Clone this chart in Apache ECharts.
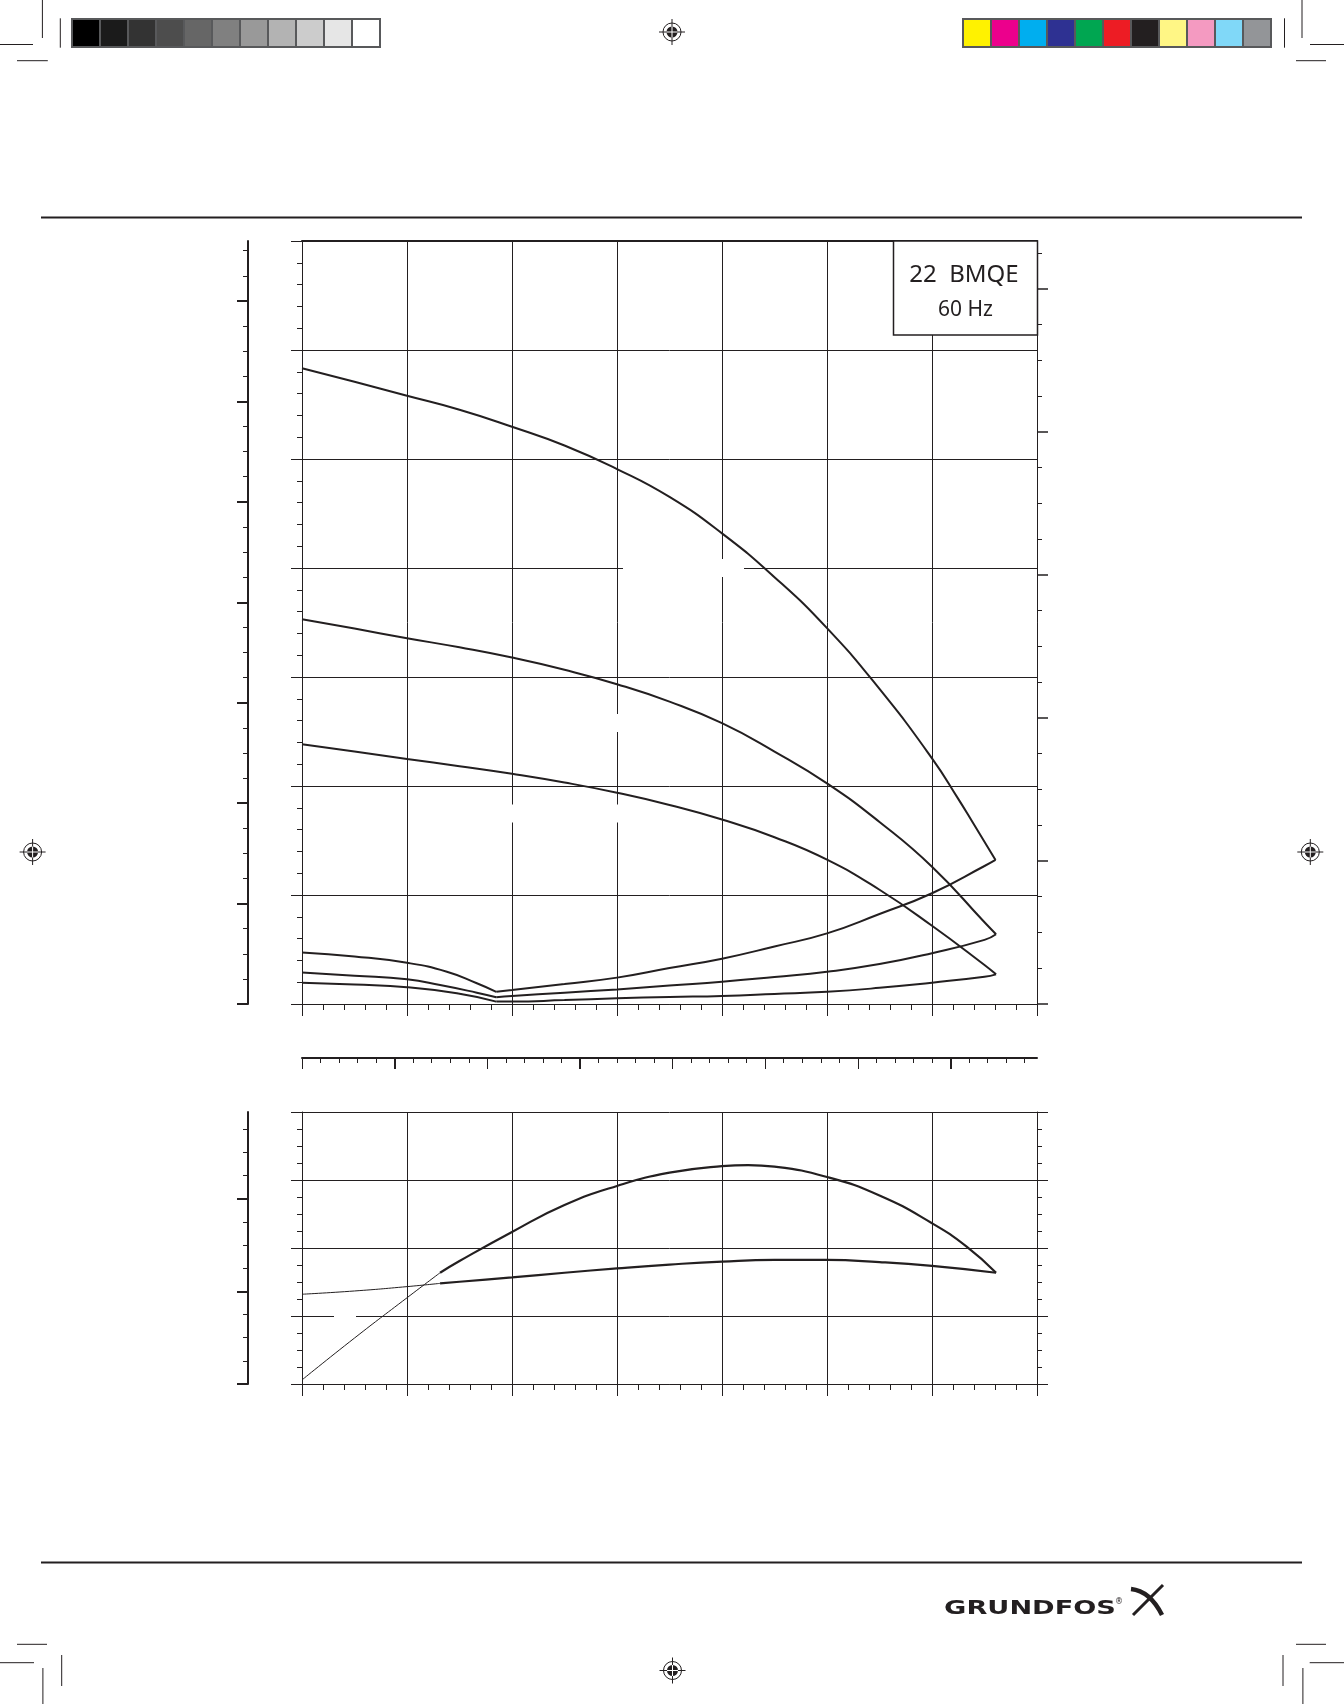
<!DOCTYPE html>
<html><head><meta charset="utf-8">
<script src="https://cdn.jsdelivr.net/npm/echarts@6/dist/echarts.min.js"></script>
<style>html,body{margin:0;padding:0;background:#fff}#c{width:1344px;height:1704px}</style>
</head><body><div id="c"></div>
<script>
// ---------- data ----------
const headA = [[0,291.6],[10,285.4],[20,279.0],[30,272.6],[40,264.8],[50,256.2],[60,245.4],[70,232.6],[80,215.9],[90,195.8],[100,172.4],[110,144.5],[120,112.7],[125,94.1],[128,82.3],[132.1,66.1]];
const headB = [[0,176.5],[10,172.2],[20,167.8],[30,163.6],[40,158.9],[50,153.3],[60,146.7],[70,138.7],[80,128.8],[90,115.8],[100,101.2],[110,83.5],[120,63.0],[130,37.5],[132.2,32.0]];
const headC = [[0,119.1],[10,115.8],[20,112.4],[30,109.1],[40,105.6],[50,101.6],[60,96.9],[70,91.3],[80,84.6],[90,76.5],[100,66.2],[110,52.4],[120,35.9],[130,17.9],[132.2,13.6]];
const lowP1left = [[0,23.6],[10,21.8],[20,18.9],[27.6,14.8],[33.3,9.5],[37,5.6]];
const lowP1right = [[37,5.6],[40,6.4],[50,9.2],[60,12.1],[70,16.5],[80,20.8],[90,26.4],[100,32.4],[110,41.3],[120,50.8],[130,63.3],[132.1,66.1]];
const lowP2left = [[0,14.5],[10,13.0],[20,11.3],[26.3,8.7],[33.3,5.2],[37,3.1]];
const lowP2right = [[37,3.1],[40,3.7],[50,5.2],[60,6.7],[70,8.5],[80,10.2],[90,12.4],[100,14.8],[110,18.3],[120,23.3],[130,29.4],[132.2,32.0]];
const lowP3left = [[0,9.8],[10,8.9],[20,7.7],[29.5,4.9],[37,1.1]];
const lowP3right = [[37,1.1],[40,1.1],[50,1.8],[60,2.6],[70,3.2],[80,3.7],[90,4.6],[100,5.6],[110,7.4],[120,9.8],[130,12.5],[132.2,13.6]];
const effThin = [[0,1.5],[10,16.9],[20,31.7],[26.3,40.9]];
const effThick = [[26.3,40.9],[30,45.2],[40,55.9],[50,65.8],[60,72.8],[70,77.7],[80,80.1],[85,80.5],[90,79.9],[100,76.1],[110,69.3],[120,59.1],[126.6,50.5],[132.2,40.9]];
const pwrThin = [[0,33.0],[10,34.2],[20,35.8],[26.3,37.0]];
const pwrThick = [[26.3,37.0],[30,37.6],[40,39.2],[50,40.9],[60,42.5],[70,43.9],[80,45.0],[90,45.6],[100,45.6],[110,44.8],[120,43.4],[132.2,40.9]];

// axis tick values
const rightMajor = [0,10,20,30,40,50];
const rightMinor = [2.5,5,7.5,12.5,15,17.5,22.5,25,27.5,32.5,35,37.5,42.5,45,47.5,52.5];
const farTopMajor = [0,10,20,30,40,50,60,70];
const farTopMinor = [2.5,5,7.5,12.5,15,17.5,22.5,25,27.5,32.5,35,37.5,42.5,45,47.5,52.5,55,57.5,62.5,65,67.5,72.5,75];
const farBotMajor = [0,10,20];
const farBotMinor = [2.5,5,7.5,12.5,15,17.5,22.5,25,27.5];
const midMinor = [1,2,3,4,6,7,8,9,11,12,13,14,16,17,18,19,21,22,23,24,26,27,28,29,31,32,33,34,36,37,38,39];
const midLongThin = [0,10,20,25,30];
const midLongThick = [5,15,35];

const grayColors = ['#000000','#1b1b1b','#333333','#4d4d4d','#666666','#808080','#999999','#b3b3b3','#cccccc','#e6e6e6','#ffffff'];
const procColors = ['#fff200','#ec008c','#00aeef','#2e3192','#00a651','#ed1c24','#231f20','#fff685','#f49ac1','#80d8f8','#939598'];

const ink = '#231f20';
const chart = echarts.init(document.getElementById('c'), null, {renderer:'canvas'});

function tickAxis(base){
  const a = Object.assign({type:'value', axisLabel:{show:false}, splitLine:{show:false},
    axisLine:{show:false}, axisTick:{show:false}, minorTick:{show:false}}, base);
  a.axisLine = Object.assign({}, a.axisLine, {onZero:false});
  return a;
}
const xAxes = [
  tickAxis({gridIndex:0, min:0, max:140, interval:20, position:'bottom',
    axisLine:{show:true, lineStyle:{color:ink,width:1}},
    axisTick:{show:true, length:12, lineStyle:{color:ink,width:1}},
    minorTick:{show:true, splitNumber:5, length:6, lineStyle:{color:ink,width:1}},
    splitLine:{show:true, lineStyle:{color:ink,width:1}}}),
  tickAxis({gridIndex:0, min:0, max:140, position:'top',
    axisLine:{show:true, lineStyle:{color:ink,width:2}}}),
  tickAxis({gridIndex:0, min:0, max:39.67, position:'bottom', offset:54,
    axisLine:{show:true, lineStyle:{color:ink,width:2}},
    axisTick:{show:true, customValues:midMinor, length:5, lineStyle:{color:ink,width:1}}}),
  tickAxis({gridIndex:0, min:0, max:39.67, position:'bottom', offset:54,
    axisTick:{show:true, customValues:midLongThin, length:11, lineStyle:{color:ink,width:1}}}),
  tickAxis({gridIndex:0, min:0, max:39.67, position:'bottom', offset:54,
    axisTick:{show:true, customValues:midLongThick, length:11, lineStyle:{color:ink,width:2}}}),
  tickAxis({gridIndex:1, min:0, max:140, interval:20, position:'bottom',
    axisLine:{show:true, lineStyle:{color:ink,width:1}},
    axisTick:{show:true, length:12, lineStyle:{color:ink,width:1}},
    minorTick:{show:true, splitNumber:5, length:6, lineStyle:{color:ink,width:1}},
    splitLine:{show:true, lineStyle:{color:ink,width:1}}})
];
const yAxes = [
  tickAxis({gridIndex:0, min:0, max:350, interval:50, position:'left',
    axisLine:{show:true, lineStyle:{color:ink,width:1}},
    axisTick:{show:true, length:11, lineStyle:{color:ink,width:1}},
    minorTick:{show:true, splitNumber:5, length:5, lineStyle:{color:ink,width:1}},
    splitLine:{show:true, lineStyle:{color:ink,width:1}}}),
  tickAxis({gridIndex:0, min:0, max:53.333, position:'right',
    axisLine:{show:true, lineStyle:{color:ink,width:1}},
    axisTick:{show:true, customValues:rightMajor, length:11, lineStyle:{color:ink,width:1.5}}}),
  tickAxis({gridIndex:0, min:0, max:53.333, position:'right',
    axisTick:{show:true, customValues:rightMinor, length:5, lineStyle:{color:ink,width:1}}}),
  tickAxis({gridIndex:0, min:0, max:75.97, position:'left', offset:54,
    axisLine:{show:true, lineStyle:{color:ink,width:2}},
    axisTick:{show:true, customValues:farTopMajor, length:11, lineStyle:{color:ink,width:2}}}),
  tickAxis({gridIndex:0, min:0, max:75.97, position:'left', offset:54,
    axisTick:{show:true, customValues:farTopMinor, length:5, lineStyle:{color:ink,width:1}}}),
  tickAxis({gridIndex:1, min:0, max:100, interval:25, position:'left',
    axisLine:{show:true, lineStyle:{color:ink,width:1}},
    axisTick:{show:true, length:11, lineStyle:{color:ink,width:1}},
    minorTick:{show:true, splitNumber:4, length:5, lineStyle:{color:ink,width:1}},
    splitLine:{show:true, lineStyle:{color:ink,width:1}}}),
  tickAxis({gridIndex:1, min:0, max:100, interval:25, position:'right',
    axisLine:{show:true, lineStyle:{color:ink,width:1}},
    axisTick:{show:true, length:11, lineStyle:{color:ink,width:1}},
    minorTick:{show:true, splitNumber:4, length:5, lineStyle:{color:ink,width:1}}}),
  tickAxis({gridIndex:1, min:0, max:29.34, position:'left', offset:54,
    axisLine:{show:true, lineStyle:{color:ink,width:2}},
    axisTick:{show:true, customValues:farBotMajor, length:11, lineStyle:{color:ink,width:2}}}),
  tickAxis({gridIndex:1, min:0, max:29.34, position:'left', offset:54,
    axisTick:{show:true, customValues:farBotMinor, length:5, lineStyle:{color:ink,width:1}}})
];

function curve(data, xi, yi, w){
  return {type:'line', data:data, xAxisIndex:xi, yAxisIndex:yi, showSymbol:false, symbol:'none',
    smooth:0.5, z:5, silent:true,
    lineStyle:{color:ink, width:w}};
}
const series = [
  curve(headA,0,0,2), curve(headB,0,0,2), curve(headC,0,0,2),
  curve(lowP1left,0,0,2), curve(lowP1right,0,0,2),
  curve(lowP2left,0,0,2), curve(lowP2right,0,0,2),
  curve(lowP3left,0,0,2), curve(lowP3right,0,0,2),
  curve(effThin,5,5,1), curve(effThick,5,5,2.2),
  curve(pwrThin,5,5,1), curve(pwrThick,5,5,2.2)
];

// ---------- decorations ----------
const g = [];
function line(x1,y1,x2,y2,w,c){ g.push({type:'line', z:10, shape:{x1,y1,x2,y2}, style:{stroke:c||ink, lineWidth:w||1}}); }
function rect(x,y,w,h,fill,stroke,lw,z){ g.push({type:'rect', z:z||10, shape:{x,y,width:w,height:h}, style:{fill:fill, stroke:stroke||null, lineWidth:lw||0}}); }
function reg(cx,cy){
  line(cx-13,cy,cx+13,cy,1); line(cx,cy-13,cx,cy+13,1);
  g.push({type:'circle', z:10, shape:{cx,cy,r:9}, style:{fill:null, stroke:ink, lineWidth:1}});
  g.push({type:'circle', z:10, shape:{cx,cy,r:5.5}, style:{fill:ink}});
  line(cx-5.5,cy,cx+5.5,cy,1,'#fff'); line(cx,cy-5.5,cx,cy+5.5,1,'#fff');
}
// colour bars
grayColors.forEach((c,i)=>rect(72+i*28,19,28,28,c,'#58595b',2));
procColors.forEach((c,i)=>rect(963+i*28,19,28,28,c,'#58595b',2));
// crop marks
line(42.4,0,42.4,38,1); line(0,44.5,33,44.5,1); line(17,60.7,47.8,60.7,1); line(60.3,18.3,60.3,47.7,1);
line(1302,0,1302,38,1); line(1310,44.5,1344,44.5,1); line(1296,60.7,1326,60.7,1); line(1284.5,18.3,1284.5,47.7,1);
line(42.9,1668,42.9,1704,1); line(0,1662.7,34,1662.7,1); line(17,1644.3,47,1644.3,1); line(61.7,1655,61.7,1686,1);
line(1302.9,1668,1302.9,1704,1); line(1309.7,1662.7,1344,1662.7,1); line(1296,1644.3,1326,1644.3,1); line(1283,1655,1283,1686,1);
reg(672,32); reg(32.6,852); reg(1310.3,852); reg(672.5,1670.5);
// rules
line(41,217.5,1302,217.5,2); line(41,1562.5,1302,1562.5,2);
// erased-label gaps in the grid
rect(623,559,121,18,'#fff',null,0,1);
rect(606,714,22,18,'#fff',null,0,1);
rect(500,804.5,130,18,'#fff',null,0,1);
rect(334,1308,22,16,'#fff',null,0,1);
// title box
rect(893.5,241,144,94,'#fff',ink,1.5,6);
g.push({type:'text', z:7, x:964, y:275, style:{text:'22  BMQE', fill:ink, font:'24px "Noto Sans"', textAlign:'center', textVerticalAlign:'middle'}});
g.push({type:'text', z:7, x:965.5, y:310, style:{text:'60 Hz', fill:ink, font:'21px "Noto Sans"', textAlign:'center', textVerticalAlign:'middle'}});
// logo
g.push({type:'text', z:10, x:1030, y:1609, scaleX:1.43,
  style:{text:'GRUNDFOS', fill:ink, font:'bold 19px "DejaVu Sans"', textAlign:'center', textVerticalAlign:'middle'}});
g.push({type:'text', z:10, x:1119, y:1602, style:{text:'®', fill:ink, font:'8px "DejaVu Sans"', textAlign:'center', textVerticalAlign:'middle'}});
g.push({type:'bezierCurve', z:10, shape:{x1:1131,y1:1589,cpx1:1150,cpy1:1591,x2:1162,y2:1615}, style:{fill:null, stroke:ink, lineWidth:4.5}});
g.push({type:'polyline', z:10, shape:{points:[[1133,1615],[1148,1600],[1163,1585]]}, style:{fill:null, stroke:ink, lineWidth:3}});

chart.setOption({
  animation:false,
  backgroundColor:'#fff',
  grid:[{left:302, top:241, width:735, height:763}, {left:302, top:1112, width:735, height:272}],
  xAxis:xAxes, yAxis:yAxes, series:series, graphic:g
});
</script></body></html>
